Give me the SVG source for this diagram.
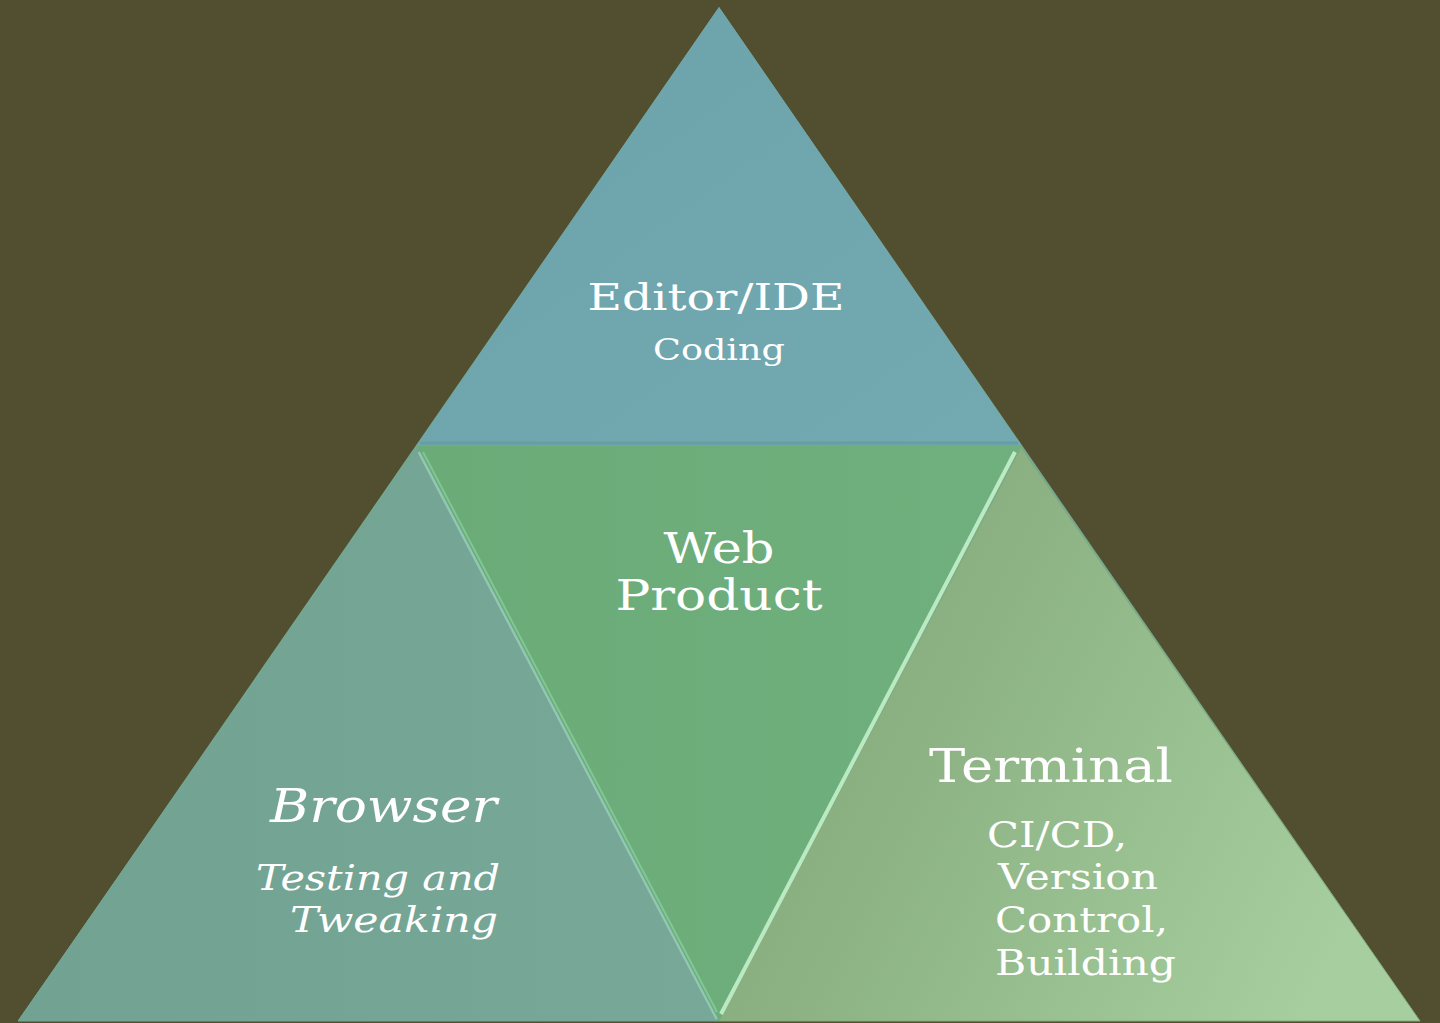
<svg xmlns="http://www.w3.org/2000/svg" width="1440" height="1023" viewBox="0 0 1440 1023">
<defs>
<linearGradient id="gR" x1="0" y1="0.2" x2="1" y2="0.6">
<stop offset="0" stop-color="#82A87A"/>
<stop offset="0.35" stop-color="#8CB283"/>
<stop offset="1" stop-color="#A6CE9E"/>
</linearGradient>
<linearGradient id="gL" x1="0" y1="0" x2="1" y2="0">
<stop offset="0" stop-color="#72A291"/>
<stop offset="1" stop-color="#77A898"/>
</linearGradient>
<linearGradient id="gT" x1="0" y1="0" x2="1" y2="1">
<stop offset="0" stop-color="#6CA3AB"/>
<stop offset="1" stop-color="#73A9B0"/>
</linearGradient>
<linearGradient id="gM" x1="0" y1="0" x2="1" y2="0">
<stop offset="0" stop-color="#6AAB78"/>
<stop offset="1" stop-color="#70B07E"/>
</linearGradient>
</defs>
<style>
.t{fill:#FFFFFF;font-family:"DejaVu Serif","Liberation Serif",serif}
.edge{fill:none;stroke-linejoin:round}
</style>
<rect width="1440" height="1023" fill="#514F30"/>
<polygon points="719,7 1420,1021 18,1021" fill="#74A890"/>
<g id="editor">
<polygon points="719,7 1021,445 417,445" fill="url(#gT)"/>
<polyline class="edge" points="420,443 1018,443" stroke="#679EA4" stroke-width="3"/>
<text class="t" x="716" y="310" font-size="38" text-anchor="middle" textLength="257" lengthAdjust="spacingAndGlyphs">Editor/IDE</text>
<text class="t" x="719" y="360" font-size="29" text-anchor="middle" textLength="132" lengthAdjust="spacingAndGlyphs">Coding</text>
</g>
<g id="terminal">
<polygon points="1021,448 1420,1021 719,1021" fill="url(#gR)" stroke="#86AC7E" stroke-width="1"/>
<text class="t" x="929" y="782" font-size="46" textLength="244" lengthAdjust="spacingAndGlyphs">Terminal</text>
<text class="t" x="987" y="847" font-size="36" textLength="140" lengthAdjust="spacingAndGlyphs">CI/CD,</text>
<text class="t" x="998" y="889" font-size="36" textLength="160" lengthAdjust="spacingAndGlyphs">Version</text>
<text class="t" x="995" y="932" font-size="36" textLength="173" lengthAdjust="spacingAndGlyphs">Control,</text>
<text class="t" x="995" y="975" font-size="36" textLength="181" lengthAdjust="spacingAndGlyphs">Building</text>
</g>
<g id="browser">
<polygon points="417,448 719,1021 18,1021" fill="url(#gL)" stroke="#74A595" stroke-width="1"/>
<polyline class="edge" points="419,452 717,1019" stroke="#9FD4C2" stroke-width="3" opacity="0.7"/>
<text class="t" x="497" y="822" font-size="46" font-style="italic" text-anchor="end" textLength="227" lengthAdjust="spacingAndGlyphs">Browser</text>
<text class="t" x="500" y="890" font-size="36" font-style="italic" text-anchor="end" textLength="244" lengthAdjust="spacingAndGlyphs">Testing and</text>
<text class="t" x="498" y="932" font-size="36" font-style="italic" text-anchor="end" textLength="208" lengthAdjust="spacingAndGlyphs">Tweaking</text>
</g>
<g id="web-product">
<polygon points="417,446 1021,446 719,1021" fill="url(#gM)"/>
<polyline class="edge" points="1015,452 721,1014" stroke="#C8F5CF" stroke-width="4" opacity="0.85"/>
<polyline class="edge" points="423,452 717,1012" stroke="#8FD9A6" stroke-width="2" opacity="0.6"/>
<text class="t" x="719" y="563" font-size="42" text-anchor="middle" textLength="111" lengthAdjust="spacingAndGlyphs">Web</text>
<text class="t" x="719" y="610" font-size="42" text-anchor="middle" textLength="207" lengthAdjust="spacingAndGlyphs">Product</text>
</g>
<g id="connectors"/>
</svg>
